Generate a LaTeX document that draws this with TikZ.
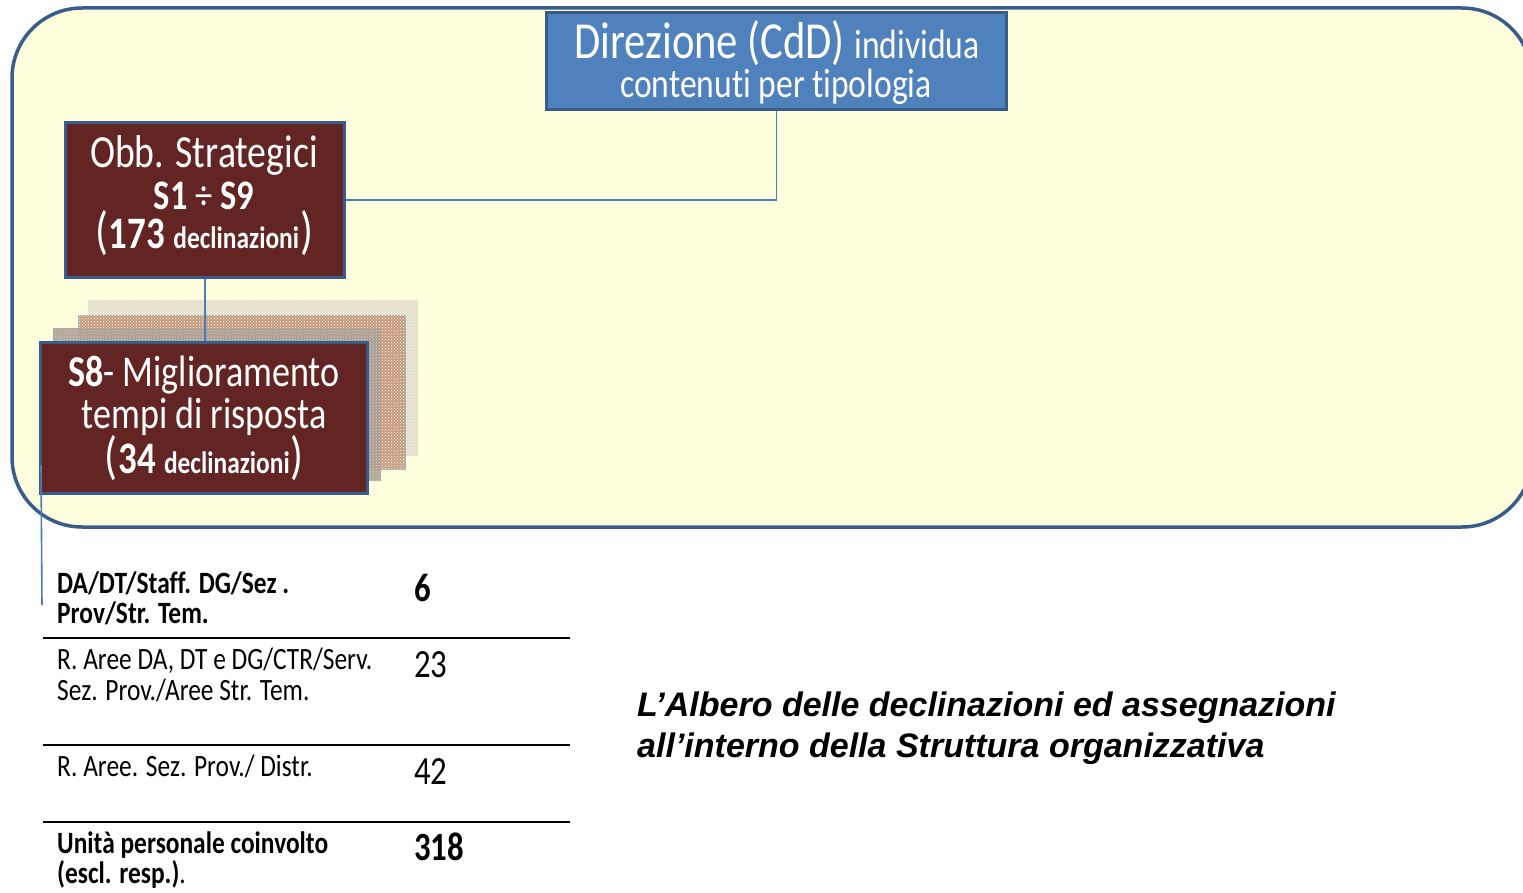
\documentclass[tikz,border=0pt]{standalone}
\usepackage{fontspec}
\setmainfont{Carlito}[Ligatures=NoCommon]
\newfontfamily\cond{Carlito}[FakeStretch=0.82,Ligatures=NoCommon]
\newfontfamily\arialf{Liberation Sans}
\usetikzlibrary{patterns}
\definecolor{boxblue}{HTML}{4F81BD}
\definecolor{bordblue}{HTML}{385D8A}
\definecolor{darkred}{HTML}{632523}
\definecolor{paleyellow}{HTML}{FFFFDE}
\definecolor{linkblue}{HTML}{4A7EBB}
\definecolor{layerA}{HTML}{DCD6C2}
\definecolor{layerB}{HTML}{C39279}
\definecolor{layerC}{HTML}{A99C92}
\newcommand{\fs}[1]{\fontsize{#1}{#1}\selectfont}
\begin{document}
\begin{tikzpicture}[x=1pt,y=-1pt,
  bluebox/.style={draw=bordblue,line width=3pt,fill=boxblue,inner sep=0pt},
  redbox/.style={draw=bordblue,line width=3pt,fill=darkred,inner sep=0pt},
  boxtext/.style={anchor=base,inner sep=0pt,text=white,font=\cond},
  conn/.style={draw=linkblue,line width=1.6pt},
  tline/.style={draw=black,line width=1.6pt},
  cell/.style={anchor=base west,inner sep=0pt,font=\cond\fs{31}},
  num/.style={anchor=base west,inner sep=0pt,font=\cond\fs{40}},
  ttl/.style={anchor=base west,inner sep=0pt,font=\arialf\bfseries\itshape\fs{34}},
  layer/.style={line width=1pt}
]
\useasboundingbox (0,0) rectangle (1523,893);
\clip (0,0) rectangle (1523,893);
\fill[white] (0,0) rectangle (1523,893);
% container
\draw[line width=3.5pt,draw=bordblue,fill=paleyellow,rounded corners=70pt] (12,8) rectangle (1532,527);
% stacked layers behind S8
\fill[layerA,opacity=0.75] (88,300) rectangle (418,456);
\path[pattern=crosshatch dots,pattern color=white!70!layerA] (88,300) rectangle (418,456);
\draw[layer,draw=bordblue!50,fill=layerB,fill opacity=0.9] (78,315) rectangle (405,469);
\path[pattern=crosshatch dots,pattern color=paleyellow] (78,315) rectangle (405,469);
\fill[layerC,opacity=0.9] (53,328) rectangle (381,481);
\path[pattern=crosshatch dots,pattern color=white!60!layerC] (53,328) rectangle (381,481);
% boxes
\node[bluebox,minimum width=460pt,minimum height=97pt] (dir) at (776.5,61) {};
\node[boxtext] (dirA) at (777,59) {\fs{52}Direzione (CdD) \fs{41}individua};
\node[boxtext] (dirB) at (776,98) {\fs{41}contenuti per tipologia};
\node[redbox,minimum width=279pt,minimum height=155pt] (obb) at (205,200) {};
\node[boxtext] (obbA) at (204,168) {\fs{46}Obb. Strategici};
\node[boxtext] (obbB) at (204,210) {\fs{42}\bfseries S1 \mdseries÷ \bfseries S9};
\node[boxtext] (obbC) at (204,249) {\fs{52}(\kern1pt\fs{45}\bfseries 173 \fs{31}declinazioni\fs{52}\mdseries\kern1pt)};
\node[redbox,minimum width=327pt,minimum height=151pt] (s8) at (204,418) {};
\node[boxtext] (s8A) at (204,386) {\fs{44}\textbf{S8}- Miglioramento};
\node[boxtext] (s8B) at (204,428) {\fs{44}tempi di risposta};
\node[boxtext] (s8C) at (204,473) {\fs{52}(\kern1pt\fs{45}\bfseries 34 \fs{31}declinazioni\fs{52}\mdseries\kern1pt)};
% connectors
\draw[conn] (dir.south) |- (obb.east);
\draw[conn] (obb.south) -- (obb.south |- s8.north);
\coordinate (tail) at (42,605);
\draw[conn] ([xshift=2pt,yshift=30pt]s8.south west) -- (tail);
% table
\draw[tline] (43,638) -- (570,638);
\draw[tline] (43,745) -- (570,745);
\draw[tline] (43,822) -- (570,822);
\node[cell] (r1a) at (57,593) {\bfseries DA/DT/Staff. DG/Sez .};
\node[cell] (r1b) at (57,623) {\bfseries Prov/Str. Tem.};
\node[num] (n1) at (414,601) {\bfseries 6};
\node[cell] (r2a) at (57,669) {R. Aree DA, DT e DG/CTR/Serv.};
\node[cell] (r2b) at (57,700) {Sez. Prov./Aree Str. Tem.};
\node[num] (n2) at (414,677) {23};
\node[cell] (r3) at (57,776) {R. Aree. Sez. Prov./ Distr.};
\node[num] (n3) at (414,784) {42};
\node[cell] (r4a) at (57,853) {\bfseries Unità personale coinvolto};
\node[cell] (r4b) at (57,883) {\bfseries (escl. resp.)\mdseries.};
\node[num] (n4) at (414,860) {\bfseries 318};
% title
\node[ttl] (titleA) at (637,716) {L’Albero delle declinazioni ed assegnazioni};
\node[ttl] (titleB) at (637,757) {all’interno della Struttura organizzativa};
\end{tikzpicture}
\end{document}
